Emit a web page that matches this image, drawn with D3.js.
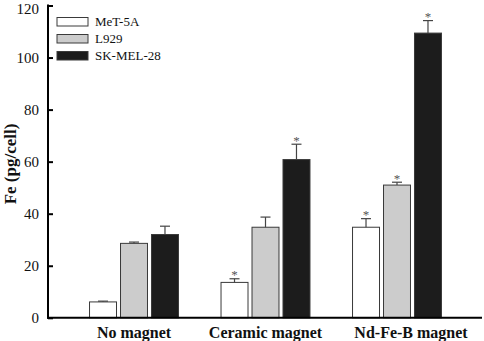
<!DOCTYPE html>
<html>
<head>
<meta charset="utf-8">
<script src="https://cdn.jsdelivr.net/npm/d3@7"></script>
<style>
  body { margin: 0; background: #fff; }
  text { font-family: "Liberation Serif", "Times New Roman", serif; }
</style>
</head>
<body>
<svg id="chart" width="484" height="341"></svg>
<script>
// Data
const groups = ["No magnet", "Ceramic magnet", "Nd-Fe-B magnet"];
const series = ["MeT-5A", "L929", "SK-MEL-28"];
const met5aValues = [6.1, 13.6, 34.8];
const met5aErrors = [0.3, 1.4, 3.3];
const l929Values = [28.6, 34.8, 51.0];
const l929Errors = [0.5, 3.9, 1.1];
const skmelValues = [32.0, 60.8, 109.4];
const skmelErrors = [3.2, 5.9, 4.8];
const met5aStars = [false, true, true];
const l929Stars = [false, false, true];
const skmelStars = [false, true, true];
const yTicks = [0, 20, 40, 60, 80, 100, 120];

const fills = ["#ffffff", "#cccccc", "#1c1c1c"];
const values = [met5aValues, l929Values, skmelValues];
const errors = [met5aErrors, l929Errors, skmelErrors];
const stars = [met5aStars, l929Stars, skmelStars];

// Flatten into rows for drawing
const rows = [];
groups.forEach((g, gi) => {
    series.forEach((s, si) => {
        rows.push({ group: g, series: s, si: si,
            value: values[si][gi], err: errors[si][gi], star: stars[si][gi] });
    });
});

const svg = d3.select("#chart");

// Scales
const y = d3.scaleLinear().domain([0, 120]).range([317.8, 5.5]);
const x0 = d3.scaleBand().domain(groups).range([68.25, 462.75])
    .paddingInner(0.316).paddingOuter(0.158);
const x1 = d3.scaleBand().domain(series).range([0, x0.bandwidth()])
    .paddingInner(0.097).paddingOuter(0);

// Bars
const bars = svg.append("g")
    .selectAll("g")
    .data(rows)
    .enter()
    .append("g")
    .attr("transform", d => `translate(${x0(d.group) + x1(d.series)},0)`);

bars.append("rect")
    .attr("x", 0.5)
    .attr("y", d => y(d.value))
    .attr("width", x1.bandwidth() - 1)
    .attr("height", d => y(0) - y(d.value))
    .attr("fill", d => fills[d.si])
    .attr("stroke", "#3a3a3a")
    .attr("stroke-width", 1);

// Error bars (upper only)
const cx = x1.bandwidth() / 2;
bars.append("line")
    .attr("x1", cx).attr("x2", cx)
    .attr("y1", d => y(d.value))
    .attr("y2", d => y(d.value + d.err))
    .attr("stroke", "#444")
    .attr("stroke-width", 1.2);
bars.append("line")
    .attr("x1", cx - 5).attr("x2", cx + 5)
    .attr("y1", d => y(d.value + d.err))
    .attr("y2", d => y(d.value + d.err))
    .attr("stroke", "#444")
    .attr("stroke-width", 1.2);

// Significance stars
bars.filter(d => d.star)
    .append("text")
    .attr("x", cx)
    .attr("y", d => y(d.value + d.err) + 0.5)
    .attr("text-anchor", "middle")
    .attr("font-size", 13)
    .attr("fill", "#555")
    .text("*");

// Y axis with inward ticks
const yAxis = d3.axisLeft(y).tickValues(yTicks).tickSize(-5).tickPadding(9);
const yg = svg.append("g")
    .attr("transform", "translate(48,0)")
    .call(yAxis);
yg.select(".domain").remove();
yg.selectAll(".tick line").attr("stroke", "#000").attr("stroke-width", 2);
yg.selectAll(".tick text")
    .attr("font-family", "Liberation Serif, serif")
    .attr("font-size", 15)
    .attr("fill", "#111")
    .attr("dy", d => d === 120 ? "8px" : "0.32em");  // keep the top label inside
svg.append("line")
    .attr("x1", 48).attr("x2", 48)
    .attr("y1", y(120) - 1).attr("y2", y(0) + 1)
    .attr("stroke", "#000").attr("stroke-width", 2);

// X axis line and group labels
svg.append("line")
    .attr("x1", 47).attr("x2", 482)
    .attr("y1", y(0)).attr("y2", y(0))
    .attr("stroke", "#000").attr("stroke-width", 2);

svg.append("g")
    .selectAll("text")
    .data(groups)
    .enter()
    .append("text")
    .attr("x", d => x0(d) + x0.bandwidth() / 2)
    .attr("dx", (d, i) => i === 2 ? 14 : 0)   // last label sits right of its bars
    .attr("y", 337.5)
    .attr("text-anchor", "middle")
    .attr("font-size", 16)
    .attr("font-weight", "bold")
    .attr("fill", "#111")
    .text(d => d);

// Y axis title
svg.append("text")
    .attr("transform", "translate(16,164) rotate(-90)")
    .attr("text-anchor", "middle")
    .attr("font-size", 17)
    .attr("font-weight", "bold")
    .attr("fill", "#111")
    .text("Fe (pg/cell)");

// Legend
const legend = svg.append("g")
    .selectAll("g")
    .data(series)
    .enter()
    .append("g")
    .attr("transform", (d, i) => `translate(57,${17.5 + i * 17})`);
legend.append("rect")
    .attr("width", 31)
    .attr("height", 8.5)
    .attr("fill", (d, i) => fills[i])
    .attr("stroke", "#3a3a3a")
    .attr("stroke-width", 1);
legend.append("text")
    .attr("x", 38)
    .attr("y", 8.5)
    .attr("font-size", 13)
    .attr("fill", "#111")
    .text(d => d);
</script>
</body>
</html>
